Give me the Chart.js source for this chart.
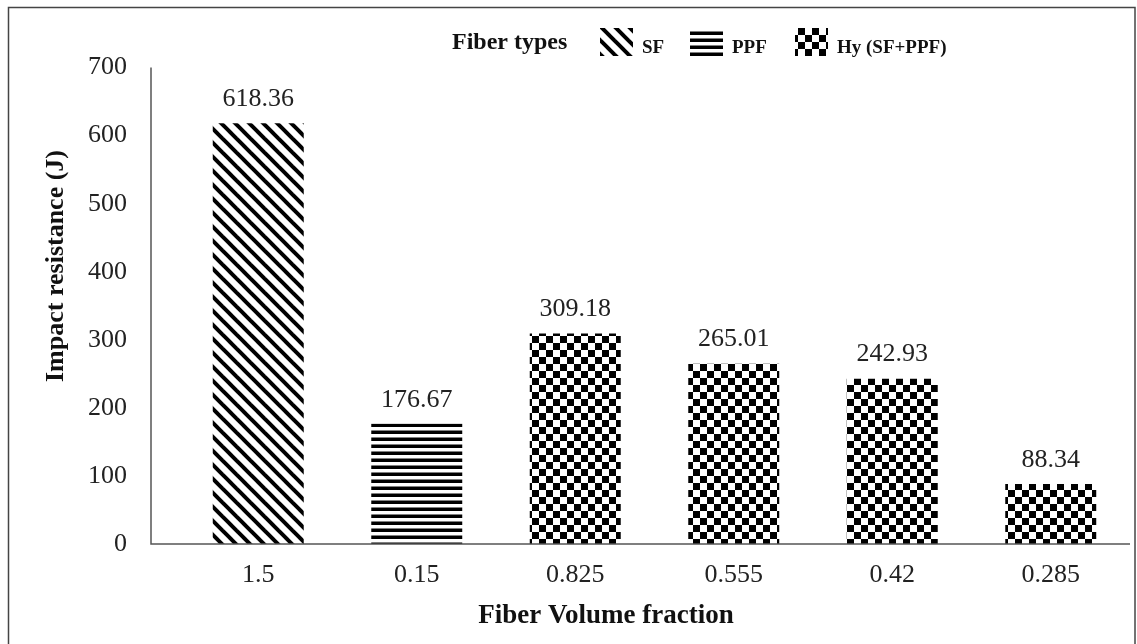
<!DOCTYPE html>
<html>
<head>
<meta charset="utf-8">
<script src="https://cdn.jsdelivr.net/npm/chart.js@4"></script>
<style>
  body { margin: 0; background: #fff; }
  #wrap { width: 1137px; height: 644px; position: relative; }
</style>
</head>
<body>
<div id="wrap"><canvas id="impact_chart"></canvas></div>
<script>
// data
var volume_fraction = ['1.5', '0.15', '0.825', '0.555', '0.42', '0.285'];
var impact_resistance = [618.36, 176.67, 309.18, 265.01, 242.93, 88.34];
var fiber_type = ['SF', 'PPF', 'Hy', 'Hy', 'Hy', 'Hy'];
var legend_keys = ['SF', 'PPF', 'Hy'];
var legend_names = ['SF', 'PPF', 'Hy (SF+PPF)'];
var y_ticks = [0, 100, 200, 300, 400, 500, 600, 700];

var SERIF = "'Liberation Serif', 'Times New Roman', serif";

function makePattern(kind) {
  var c = document.createElement('canvas');
  var x = c.getContext('2d');
  if (kind === 'SF') {
    var s = 14;
    c.width = s; c.height = s;
    x.fillStyle = '#fff'; x.fillRect(0, 0, s, s);
    x.strokeStyle = '#000'; x.lineWidth = 4;
    for (var k = -1; k <= 1; k++) {
      x.beginPath();
      x.moveTo(k * s - 2, -2);
      x.lineTo(k * s + s + 2, s + 2);
      x.stroke();
    }
  } else if (kind === 'PPF') {
    c.width = 7; c.height = 7;
    x.fillStyle = '#fff'; x.fillRect(0, 0, 7, 7);
    x.fillStyle = '#000'; x.fillRect(0, 3.5, 7, 3.5);
  } else {
    c.width = 14; c.height = 14;
    x.fillStyle = '#fff'; x.fillRect(0, 0, 14, 14);
    x.fillStyle = '#000';
    x.fillRect(0, 0, 7, 7);
    x.fillRect(7, 7, 7, 7);
  }
  return x.createPattern(c, 'repeat');
}

var patterns = {};
legend_keys.forEach(function (k) { patterns[k] = makePattern(k); });
var bar_fills = fiber_type.map(function (t) { return patterns[t]; });

var AXIS_GAP = 28;

var decorPlugin = {
  id: 'decor',
  afterDatasetsDraw: function (chart) {
    var ctx = chart.ctx, a = chart.chartArea;
    var y = chart.scales.y;
    var x0 = a.left - AXIS_GAP;
    ctx.save();
    ctx.strokeStyle = '#555';
    ctx.lineWidth = 1.5;
    ctx.beginPath();
    ctx.moveTo(x0, y.getPixelForValue(700));
    ctx.lineTo(x0, a.bottom);
    ctx.lineTo(a.right, a.bottom);
    ctx.stroke();

    // value labels
    var meta = chart.getDatasetMeta(0);
    ctx.fillStyle = '#222';
    ctx.font = '26px ' + SERIF;
    ctx.textAlign = 'center';
    ctx.textBaseline = 'middle';
    meta.data.forEach(function (bar, i) {
      ctx.fillText(impact_resistance[i].toFixed(2), bar.x, bar.y - 24);
    });
    ctx.restore();
  },
  afterDraw: function (chart) {
    var ctx = chart.ctx;
    ctx.save();
    // outer frame
    ctx.strokeStyle = '#444';
    ctx.lineWidth = 1.5;
    ctx.strokeRect(8.5, 7.5, 1126.5, 660);

    // axis titles
    ctx.fillStyle = '#111';
    ctx.font = 'bold 27px ' + SERIF;
    ctx.textAlign = 'center';
    ctx.textBaseline = 'middle';
    ctx.fillText('Fiber Volume fraction', 606, 616);
    ctx.save();
    ctx.translate(56, 266);
    ctx.rotate(-Math.PI / 2);
    ctx.font = 'bold 26px ' + SERIF;
    ctx.fillText('Impact resistance (J)', 0, 0);
    ctx.restore();

    // legend
    ctx.textAlign = 'left';
    ctx.font = 'bold 24px ' + SERIF;
    ctx.fillText('Fiber types', 452, 43);
    var sw_x = [600, 690, 795];
    ctx.font = 'bold 19px ' + SERIF;
    legend_keys.forEach(function (k, i) {
      ctx.fillStyle = patterns[k];
      ctx.fillRect(sw_x[i], 28, 33, 28);
      ctx.fillStyle = '#111';
      ctx.fillText(legend_names[i], sw_x[i] + 42, 48);
    });
    ctx.restore();
  }
};

var ctx = document.getElementById('impact_chart').getContext('2d');
var impact_chart = new Chart(ctx, {
  type: 'bar',
  data: {
    labels: volume_fraction,
    datasets: [{
      label: 'Impact resistance',
      data: impact_resistance,
      backgroundColor: bar_fills,
      borderWidth: 0,
      categoryPercentage: 1,
      barPercentage: 0.574
    }]
  },
  options: {
    responsive: true,
    maintainAspectRatio: false,
    animation: false,
    layout: { padding: { left: 0, top: 64, right: 7, bottom: 0 } },
    plugins: {
      legend: { display: false },
      tooltip: { enabled: false }
    },
    scales: {
      x: {
        grid: { display: false, drawTicks: false },
        border: { display: false },
        ticks: { color: '#222', font: { family: SERIF, size: 26 }, padding: 16 },
        afterFit: function (scale) { scale.height = 100; }
      },
      y: {
        min: 0,
        max: 700,
        grid: { display: false, drawTicks: false },
        border: { display: false },
        afterBuildTicks: function (scale) {
          scale.ticks = y_ticks.map(function (v) { return { value: v }; });
        },
        ticks: { color: '#222', font: { family: SERIF, size: 26 }, padding: 52 },
        afterFit: function (scale) { scale.width = 179; }
      }
    }
  },
  plugins: [decorPlugin]
});
</script>
</body>
</html>
